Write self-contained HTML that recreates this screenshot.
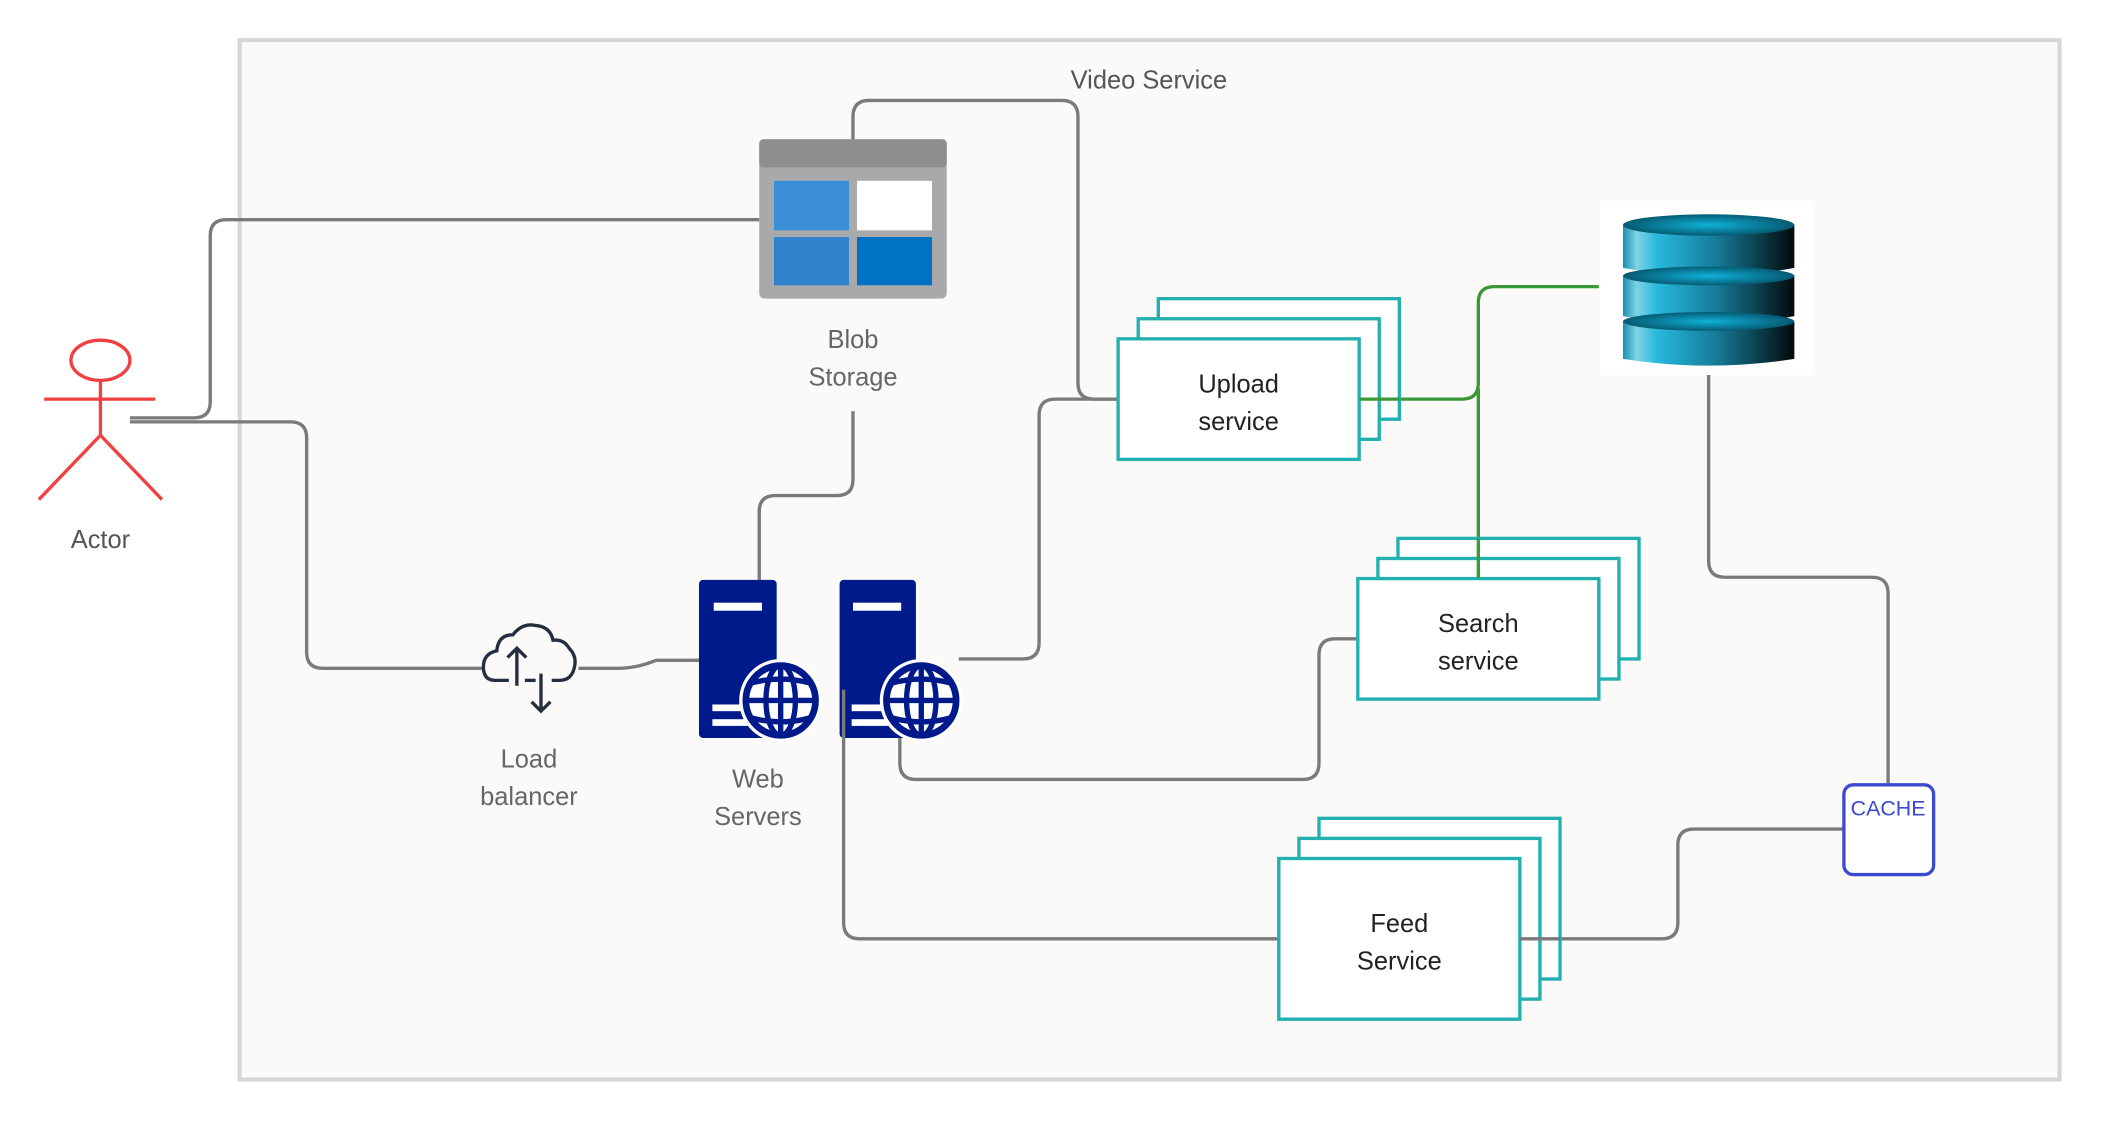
<!DOCTYPE html>
<html><head><meta charset="utf-8"><style>
html,body{margin:0;padding:0;background:#fff;width:2101px;height:1121px;overflow:hidden}
svg{display:block}
text{font-family:"Liberation Sans",sans-serif}
</style></head><body>
<svg width="2101" height="1121" viewBox="0 0 1569 837" preserveAspectRatio="none" xmlns="http://www.w3.org/2000/svg">
<defs>
<linearGradient id="dg" x1="0" x2="1" y1="0" y2="0">
<stop offset="0" stop-color="#1a8fb0"/><stop offset="0.08" stop-color="#7fd3e6"/><stop offset="0.2" stop-color="#27b8dc"/><stop offset="0.55" stop-color="#157a96"/><stop offset="1" stop-color="#020a0c"/>
</linearGradient>
<radialGradient id="dt" cx="0.5" cy="0.5" r="0.6"><stop offset="0" stop-color="#10b0d8"/><stop offset="1" stop-color="#034a5e"/></radialGradient>
</defs>
<rect x="179" y="30" width="1359" height="776" fill="#fbfaf8" stroke="#d6d6d6" stroke-width="3"/>
<text x="858" y="66" font-size="19" fill="#555" text-anchor="middle">Video Service</text>

<g fill="none" stroke="#7a7a7a" stroke-width="2.5">
<path d="M97 312 H145 Q157 312 157 300 V176 Q157 164 169 164 H567"/>
<path d="M97 315 H217 Q229 315 229 327 V487 Q229 499 241 499 H360"/>
<path d="M432 499 H462 Q475 499 490 493 H522"/>
<path d="M637 104 V87 Q637 75 649 75 H793 Q805 75 805 87 V286 Q805 298 817 298 H835"/>
<path d="M637 307 V358 Q637 370 625 370 H579 Q567 370 567 382 V433"/>
<path d="M716 492 H764 Q776 492 776 480 V310 Q776 298 788 298 H835"/>
<path d="M672 550 V570 Q672 582 684 582 H973 Q985 582 985 570 V489 Q985 477 997 477 H1014"/>
<path d="M630 515 V689 Q630 701 642 701 H955"/>
<path d="M1135 701 H1241 Q1253 701 1253 689 V631 Q1253 619 1265 619 H1376"/>
<path d="M1276 280 V419 Q1276 431 1288 431 H1398 Q1410 431 1410 443 V585"/>
</g>
<g fill="none" stroke="#3a9a3a" stroke-width="2.5">
<path d="M1015 298 H1092 Q1104 298 1104 286 V226 Q1104 214 1116 214 H1194"/>
<path d="M1104 290 V432"/>
</g>

<g stroke="#f04040" stroke-width="2.5" fill="none">
<ellipse cx="75" cy="269" rx="22" ry="15"/>
<path d="M33 298 H116 M75 284 V325 M75 325 L29 373 M75 325 L121 373"/>
</g>
<text x="75" y="409" font-size="19" fill="#555" text-anchor="middle">Actor</text>

<rect x="567" y="104" width="140" height="119" rx="4" fill="#a8a9ab"/>
<rect x="567" y="104" width="140" height="21" rx="3" fill="#8e8e8e"/>
<rect x="578" y="135" width="56" height="37" fill="#3a8fd6"/>
<rect x="640" y="135" width="56" height="37" fill="#fff"/>
<rect x="578" y="177" width="56" height="36" fill="#2f82cc"/>
<rect x="640" y="177" width="56" height="36" fill="#0072c6"/>
<text x="637" y="260" font-size="19" fill="#666" text-anchor="middle">Blob</text>
<text x="637" y="288" font-size="19" fill="#666" text-anchor="middle">Storage</text>

<g fill="none" stroke="#232f3e" stroke-width="2.5">
<path d="M380 508 H370 Q361 508 361 498 Q361 488 371 486 Q372 474 383 474 Q390 465 400 467 Q411 468 413 478 Q421 477 425 484 Q431 490 429 498 Q427 508 418 508 H412"/>
<path d="M386 512 V484 M379 491 L386 484 L393 491"/>
<path d="M404 503 V531 M397 524 L404 531 L411 524"/>
<path d="M392 508 H400"/>
</g>
<text x="395" y="573" font-size="19" fill="#666" text-anchor="middle">Load</text>
<text x="395" y="601" font-size="19" fill="#666" text-anchor="middle">balancer</text>

<g>
<rect x="522" y="433" width="58" height="118" rx="3" fill="#001a8c"/>
<rect x="533" y="450" width="36" height="6" fill="#fff"/>
<rect x="532" y="526" width="28" height="5" fill="#fff"/>
<rect x="532" y="537" width="28" height="5" fill="#fff"/>
<circle cx="583" cy="523" r="31" fill="#fff"/>
<circle cx="583" cy="523" r="26" fill="none" stroke="#001a8c" stroke-width="5"/>
<ellipse cx="583" cy="523" rx="11" ry="26" fill="none" stroke="#001a8c" stroke-width="4"/>
<path d="M557 523 H609 M561 510 Q583 504 605 510 M561 536 Q583 542 605 536 M583 497 V549" stroke="#001a8c" stroke-width="4" fill="none"/>
</g>
<g>
<rect x="627" y="433" width="57" height="118" rx="3" fill="#001a8c"/>
<rect x="637" y="450" width="36" height="6" fill="#fff"/>
<rect x="636" y="526" width="28" height="5" fill="#fff"/>
<rect x="636" y="537" width="28" height="5" fill="#fff"/>
<circle cx="688" cy="523" r="31" fill="#fff"/>
<circle cx="688" cy="523" r="26" fill="none" stroke="#001a8c" stroke-width="5"/>
<ellipse cx="688" cy="523" rx="11" ry="26" fill="none" stroke="#001a8c" stroke-width="4"/>
<path d="M662 523 H714 M666 510 Q688 504 710 510 M666 536 Q688 542 710 536 M688 497 V549" stroke="#001a8c" stroke-width="4" fill="none"/>
</g>
<path d="M630 515 V551" stroke="#7a7a7a" stroke-width="2.5"/>
<text x="566" y="588" font-size="19" fill="#666" text-anchor="middle">Web</text>
<text x="566" y="616" font-size="19" fill="#666" text-anchor="middle">Servers</text>

<g fill="#fff" stroke="#22b0b0" stroke-width="2.5">
<rect x="865" y="223" width="180" height="90"/><rect x="850" y="238" width="180" height="90"/><rect x="835" y="253" width="180" height="90"/>
<rect x="1044" y="402" width="180" height="90"/><rect x="1029" y="417" width="180" height="90"/><rect x="1014" y="432" width="180" height="90"/>
<rect x="985" y="611" width="180" height="120"/><rect x="970" y="626" width="180" height="120"/><rect x="955" y="641" width="180" height="120"/>
</g>
<path d="M1015 298 H1045" stroke="#3a9a3a" stroke-width="2.5"/>
<path d="M1104 402 V432" stroke="#3a9a3a" stroke-width="2.5"/>
<path d="M1135 701 H1165" stroke="#7a7a7a" stroke-width="2.5"/>
<g font-size="19" fill="#222" text-anchor="middle">
<text x="925" y="293">Upload</text><text x="925" y="321">service</text>
<text x="1104" y="472">Search</text><text x="1104" y="500">service</text>
<text x="1045" y="696">Feed</text><text x="1045" y="724">Service</text>
</g>

<rect x="1195" y="150" width="160" height="130" fill="#fff"/>
<g>
<path d="M1212 168 V200 Q1276 212 1340 200 V168 Z" fill="url(#dg)"/>
<ellipse cx="1276" cy="168" rx="64" ry="8" fill="url(#dt)"/>
<path d="M1212 206 V236 Q1276 248 1340 236 V206 Z" fill="url(#dg)"/>
<ellipse cx="1276" cy="206" rx="64" ry="7" fill="url(#dt)"/>
<path d="M1212 240 V268 Q1276 278 1340 268 V240 Z" fill="url(#dg)"/>
<ellipse cx="1276" cy="240" rx="64" ry="7" fill="url(#dt)"/>
</g>

<rect x="1377" y="586" width="67" height="67" rx="7" fill="#fff" stroke="#3b4bd0" stroke-width="2.5"/>
<text x="1410" y="609" font-size="16" fill="#3b4bd0" text-anchor="middle">CACHE</text>
</svg>
</body></html>
